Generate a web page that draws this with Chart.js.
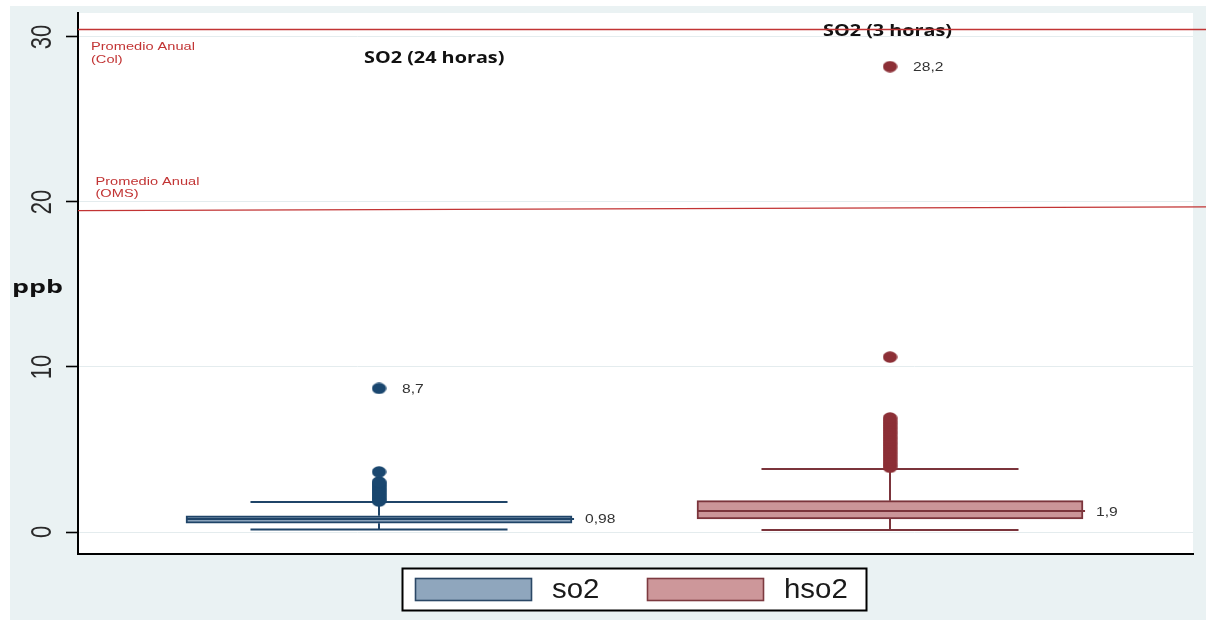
<!DOCTYPE html>
<html>
<head>
<meta charset="utf-8">
<script src="https://cdn.jsdelivr.net/npm/chart.js@4/dist/chart.umd.min.js"></script>
<style>
  html, body { margin: 0; padding: 0; background: #ffffff; }
  canvas { display: block; }
</style>
</head>
<body>
<canvas id="c" width="1206" height="620"></canvas>
<script>
// ---- data ----
const seriesNames   = ['so2', 'hso2'];
const groupTitles   = ['SO2 (24 horas)', 'SO2 (3 horas)'];
const positions     = [1, 2];
const lowerWhisker  = [0.15, 0.12];
const q1            = [0.53, 0.79];
const median        = [0.79, 1.27];
const q3            = [0.98, 1.9];
const upperWhisker  = [1.82, 3.82];
const outliersSo2   = [1.87, 1.95, 2.05, 2.15, 2.25, 2.35, 2.45, 2.55, 2.65, 2.75, 2.85, 2.95, 3.03, 3.64, 8.7];
const outliersHso2  = [3.92, 4.05, 4.2, 4.35, 4.5, 4.65, 4.8, 4.95, 5.1, 5.25, 5.4, 5.55, 5.7, 5.85, 6.0, 6.15, 6.3, 6.45, 6.6, 6.75, 6.91, 10.6, 28.2];
const labelledOutliers = [8.7, 28.2];   // one per series
const yTicks        = [0, 10, 20, 30];
const refCol        = [30.45, 30.45];   // left / right end
const refOms        = [19.47, 19.7];    // left / right end
const refColText    = ['Promedio Anual', '(Col)'];
const refOmsText    = ['Promedio Anual', '(OMS)'];
const yTitle        = 'ppb';

// ---- style ----
const fill    = ['#8ba3bb', '#cb9598'];
const edge    = ['#1f4468', '#7b343b'];
const dotCol  = ['#1a476f', '#8c2f36'];
const swatchFill = ['#8fa6bd', '#cd979a'];
const swatchEdge = ['#2b4866', '#7d3a40'];
const refColor = '#c23434';
const boxHalf = 0.3777;   // x units
const capHalf = 0.2515;
const X_MIN = 0.41096, X_MAX = 2.59295, X_EDGE = 2.6184;
const Y_MIN = -1.333, Y_MAX = 31.45;

const fmt = v => String(v).replace('.', ',');

function ellipseDot(w, h, color) {
  const c = document.createElement('canvas');
  c.width = w; c.height = h;
  const g = c.getContext('2d');
  g.fillStyle = color;
  g.beginPath();
  g.ellipse(w / 2, h / 2, w / 2 - 0.3, h / 2 - 0.3, 0, 0, Math.PI * 2);
  g.fill();
  return c;
}

function whiskerPoints(i) {
  const p = positions[i];
  return [
    {x: p - capHalf, y: lowerWhisker[i]}, {x: p + capHalf, y: lowerWhisker[i]}, {x: p + capHalf, y: null},
    {x: p, y: lowerWhisker[i]}, {x: p, y: q1[i]}, {x: p, y: null},
    {x: p, y: q3[i]}, {x: p, y: upperWhisker[i]}, {x: p, y: null},
    {x: p - capHalf, y: upperWhisker[i]}, {x: p + capHalf, y: upperWhisker[i]}
  ];
}
function medianPoints(i) {
  const p = positions[i];
  return [{x: p - boxHalf, y: median[i]}, {x: p + boxHalf + 0.004, y: median[i]}];
}

// stretched text helper
function txt(ctx, s, x, y, font, color, sx, align) {
  ctx.save();
  ctx.font = font;
  ctx.fillStyle = color;
  ctx.textBaseline = 'alphabetic';
  ctx.textAlign = align || 'left';
  ctx.translate(x, y);
  ctx.scale(sx, 1);
  ctx.fillText(s, 0, 0);
  ctx.restore();
}
function fitText(ctx, s, x, y, font, color, width) {
  ctx.save();
  ctx.font = font;
  const w = ctx.measureText(s).width;
  ctx.restore();
  txt(ctx, s, x, y, font, color, width / w, 'left');
}

const backdrop = {
  id: 'backdrop',
  beforeDraw(chart) {
    const {ctx, chartArea: a, width, height} = chart;
    ctx.save();
    ctx.fillStyle = '#ffffff';
    ctx.fillRect(0, 0, width, height);
    ctx.fillStyle = '#eaf2f3';
    ctx.fillRect(10, 6, width - 10, height - 6);
    ctx.fillStyle = '#ffffff';
    ctx.fillRect(a.left, a.top, a.right - a.left, a.bottom - a.top);
    ctx.restore();
  },
  beforeDatasetsDraw(chart) {
    const ctx = chart.ctx;
    const ys = chart.scales.y;
    // panel titles
    txt(ctx, groupTitles[0], 364, 62.5, "bold 16.5px 'Open Sans'", '#111111', 1.2);
    txt(ctx, groupTitles[1], 823, 36, "bold 16.5px 'Open Sans'", '#111111', 1.2);
    // reference line captions
    const yc = ys.getPixelForValue(refCol[0]);
    txt(ctx, refColText[0], 91, yc + 20.5, "11.5px 'Liberation Sans'", refColor, 1.27);
    txt(ctx, refColText[1], 91, yc + 33, "11.5px 'Liberation Sans'", refColor, 1.27);
    const yo = ys.getPixelForValue(refOms[0]);
    txt(ctx, refOmsText[0], 95.5, yo - 25.5, "11.5px 'Liberation Sans'", refColor, 1.27);
    txt(ctx, refOmsText[1], 95.5, yo - 13.5, "11.5px 'Liberation Sans'", refColor, 1.27);
  },
  afterDraw(chart) {
    const ctx = chart.ctx;
    const xs = chart.scales.x, ys = chart.scales.y;
    // y tick labels, vertical
    yTicks.forEach(v => {
      const py = ys.getPixelForValue(v);
      ctx.save();
      ctx.translate(51, py);
      ctx.rotate(-Math.PI / 2);
      ctx.scale(1, 1.33);
      ctx.font = "22px 'Liberation Sans'";
      ctx.fillStyle = '#2a2a2a';
      ctx.textAlign = 'center';
      ctx.textBaseline = 'alphabetic';
      ctx.fillText(String(v), 0, 0);
      ctx.restore();
    });
    // axis title
    fitText(ctx, yTitle, 12, 293, "bold 18.5px 'Open Sans'", '#111111', 51);
    // box value labels
    q3.forEach((v, i) => {
      const px = xs.getPixelForValue(positions[i] + boxHalf) + 13;
      const py = ys.getPixelForValue(median[i]) + 4.5;
      txt(ctx, fmt(v), px, py, "12.5px 'Liberation Sans'", '#333333', 1.25);
    });
    // outlier labels
    labelledOutliers.forEach((v, i) => {
      const px = xs.getPixelForValue(positions[i]) + 23;
      const py = ys.getPixelForValue(v) + 4.5;
      txt(ctx, fmt(v), px, py, "12.5px 'Liberation Sans'", '#333333', 1.25);
    });
    // legend
    ctx.save();
    ctx.fillStyle = '#ffffff';
    ctx.fillRect(402.5, 568.5, 464, 42);
    ctx.strokeStyle = '#000000';
    ctx.lineWidth = 2;
    ctx.strokeRect(402.5, 568.5, 464, 42);
    const sw = [415, 647], tx = [552, 784];
    seriesNames.forEach((name, i) => {
      ctx.fillStyle = swatchFill[i];
      ctx.fillRect(sw[i], 578, 117, 23);
      ctx.strokeStyle = swatchEdge[i];
      ctx.lineWidth = 1.6;
      ctx.strokeRect(sw[i] + 0.5, 578.5, 116, 22);
      txt(ctx, name, tx[i], 598, "27.5px 'Liberation Sans'", '#1a1a1a', 1.07);
    });
    ctx.restore();
  }
};

const datasets = [];
// reference lines
datasets.push({type: 'line', data: [{x: X_MIN, y: refCol[0]}, {x: X_EDGE, y: refCol[1]}],
  borderColor: refColor, borderWidth: 1.3, pointRadius: 0, clip: false, order: 0});
datasets.push({type: 'line', data: [{x: X_MIN, y: refOms[0]}, {x: X_EDGE, y: refOms[1]}],
  borderColor: refColor, borderWidth: 1.3, pointRadius: 0, clip: false, order: 0});
// outliers
[outliersSo2, outliersHso2].forEach((vals, i) => {
  const dot = ellipseDot(15, 12, dotCol[i]);
  datasets.push({type: 'scatter', data: vals.map(v => ({x: positions[i], y: v})),
    pointStyle: dot, pointRadius: 7, backgroundColor: dotCol[i], borderWidth: 0, order: 1});
});
// medians
[0, 1].forEach(i => datasets.push({type: 'line', data: medianPoints(i),
  borderColor: edge[i], borderWidth: 2, pointRadius: 0, order: 2}));
// boxes
datasets.push({type: 'bar', label: 'boxes',
  data: positions.map((p, i) => ({x: p, y: [q1[i], q3[i]]})),
  backgroundColor: fill, borderColor: edge, borderWidth: 2, borderSkipped: false,
  barThickness: 386, order: 3});
// whiskers and caps
[0, 1].forEach(i => datasets.push({type: 'line', data: whiskerPoints(i),
  borderColor: edge[i], borderWidth: 2, pointRadius: 0, spanGaps: false, order: 4}));

new Chart(document.getElementById('c'), {
  data: {datasets},
  options: {
    responsive: false,
    devicePixelRatio: 1,
    animation: false,
    events: [],
    layout: {padding: {left: 66, top: 13, right: 13, bottom: 66}},
    plugins: {legend: {display: false}, tooltip: {enabled: false}},
    scales: {
      x: {
        type: 'linear', min: X_MIN, max: X_MAX, offset: false,
        ticks: {display: false},
        grid: {display: false, offset: false, drawTicks: false, tickLength: 0},
        border: {display: true, color: '#000000', width: 2},
        afterFit(s) { s.height = 0; }
      },
      y: {
        type: 'linear', min: Y_MIN, max: Y_MAX,
        afterBuildTicks(s) { s.ticks = yTicks.map(v => ({value: v})); },
        ticks: {display: false},
        grid: {color: '#e4ecee', lineWidth: 1, drawTicks: true, tickLength: 12,
               tickColor: '#000000', tickWidth: 1.6},
        border: {display: true, color: '#000000', width: 2},
        afterFit(s) { s.width = 12; }
      }
    }
  },
  plugins: [backdrop]
});
</script>
</body>
</html>
